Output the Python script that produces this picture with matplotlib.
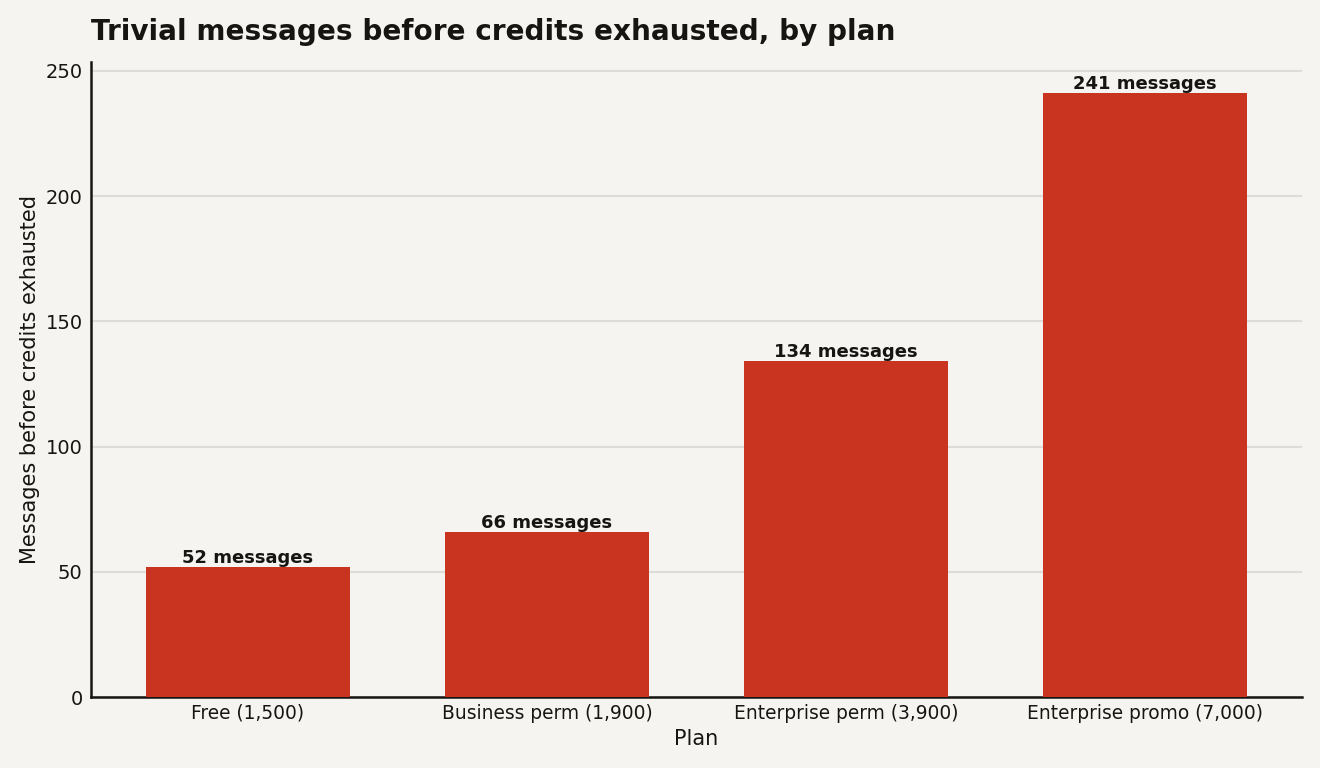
import matplotlib
matplotlib.use("Agg")
import matplotlib.pyplot as plt

# data
plans = ["Free (1,500)", "Business perm (1,900)", "Enterprise perm (3,900)", "Enterprise promo (7,000)"]
messages = [52, 66, 134, 241]

BG = "#f5f4f0"
BAR = "#c93420"
INK = "#161512"

fig = plt.figure(figsize=(13.2, 7.68), dpi=100, facecolor=BG)
ax = fig.add_axes([0.0689, 0.0924, 0.9175, 0.8269], facecolor=BG)

x = range(len(plans))
bars = ax.bar(x, messages, width=0.68, color=BAR, zorder=3)

for b, v in zip(bars, messages):
    ax.text(b.get_x() + b.get_width() / 2, v, f"{v} messages",
            ha="center", va="bottom", fontsize=13, fontweight="bold", color=INK)

ax.set_xlim(-0.525, 3.525)
ax.set_ylim(0, max(messages) * 1.052)
ax.set_xticks(list(x))
ax.set_xticklabels(plans, fontsize=13.4, color=INK)
ax.set_yticks([0, 50, 100, 150, 200, 250])
ax.tick_params(axis="y", labelsize=14, colors=INK, length=0, pad=6)
ax.tick_params(axis="x", length=0, pad=5)

ax.set_xlabel("Plan", fontsize=15, color=INK, labelpad=4)
ax.set_ylabel("Messages before credits exhausted", fontsize=15, color=INK, labelpad=4)
ax.set_title("Trivial messages before credits exhausted, by plan", loc="left",
             fontsize=20.1, fontweight="bold", color=INK, pad=16)

ax.grid(axis="y", color="#dddcd7", linewidth=1.5, zorder=0)
ax.set_axisbelow(True)
for s in ["top", "right"]:
    ax.spines[s].set_visible(False)
for s in ["left", "bottom"]:
    ax.spines[s].set_color(INK)
    ax.spines[s].set_linewidth(1.8)

fig.savefig("out.png", dpi=100, facecolor=BG)
